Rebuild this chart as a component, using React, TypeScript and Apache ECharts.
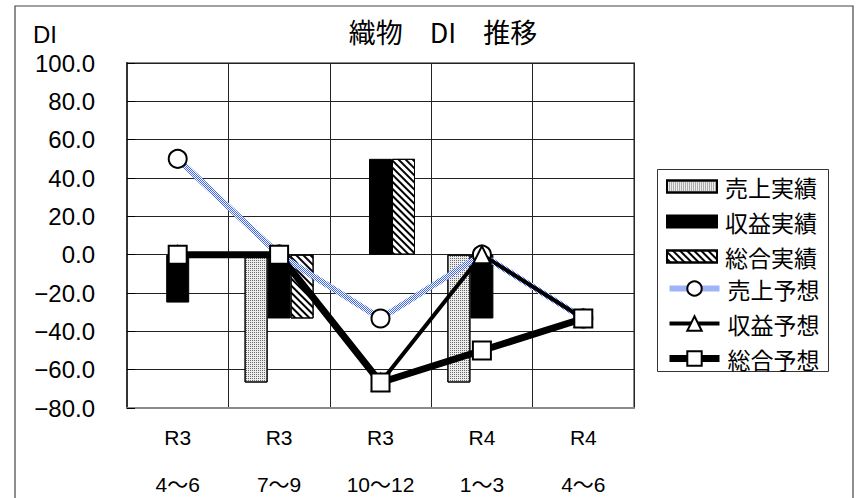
import React, { useEffect, useRef } from "react";
import * as echarts from "echarts";

// Period labels: fiscal year on the first line, months on the second
const periodYears = ["R3", "R3", "R3", "R4", "R4"];
const periodMonths = ["4～6", "7～9", "10～12", "1～3", "4～6"];

// Actual DI (bars)
const salesActual = [0, -66.7, 0, -66.7, null];
const profitActual = [-25, -33.3, 50, -33.3, null];
const totalActual = [0, -33.3, 50, 0, null];

// Forecast DI (lines)
const salesForecast = [50, 0, -33.3, 0, -33.3];
const profitForecast = [0, 0, -66.7, 0, -33.3];
const totalForecast = [0, 0, -66.7, -50, -33.3];

const barNames = ["売上実績", "収益実績", "総合実績"];
const lineNames = ["売上予想", "収益予想", "総合予想"];

const LATIN = '"Liberation Sans", "Noto Sans CJK JP", sans-serif';
const CJK = '"Noto Sans CJK JP", "Liberation Sans", sans-serif';

// Blue/white checkerboard used as the stroke of the sales forecast line
function checkerPattern(): HTMLCanvasElement {
  const c = document.createElement("canvas");
  c.width = 2;
  c.height = 2;
  const ctx = c.getContext("2d")!;
  ctx.fillStyle = "#ffffff";
  ctx.fillRect(0, 0, 2, 2);
  ctx.fillStyle = "#3f66f2";
  ctx.fillRect(0, 0, 1, 1);
  ctx.fillRect(1, 1, 1, 1);
  return c;
}

// A zero-valued bar is drawn without its outline so it stays invisible
function barData(values: (number | null)[]) {
  return values.map((v) =>
    v === 0 ? { value: 0, itemStyle: { borderWidth: 0 } } : v
  );
}

export default function App() {
  const ref = useRef<HTMLDivElement>(null);

  useEffect(() => {
    if (!ref.current) return;
    const chart = echarts.init(ref.current, null, { renderer: "svg" });
    const categories = periodYears.map((y, i) => `${y}\n${periodMonths[i]}`);
    const blueStroke = { image: checkerPattern(), repeat: "repeat" };

    const barBase = { type: "bar", barWidth: 23, barGap: "0%" };
    const legendText = {
      color: "#000",
      fontFamily: CJK,
      fontSize: 23,
      lineHeight: 22,
      padding: [0, 0, 0, 3],
    };

    chart.setOption({
      animation: false,
      backgroundColor: "#ffffff",
      grid: {
        left: 127,
        right: 227,
        top: 63,
        bottom: 90,
        outerBoundsMode: "none",
        containLabel: false,
        show: true,
        borderColor: "#8a8a8a",
        borderWidth: 2,
        backgroundColor: "transparent",
      },
      xAxis: {
        type: "category",
        data: categories,
        axisLine: { show: true, onZero: false, lineStyle: { color: "#8a8a8a", width: 2 } },
        axisTick: { show: false },
        splitLine: { show: true, lineStyle: { color: "#222", width: 1 } },
        axisLabel: {
          color: "#000",
          fontFamily: LATIN,
          fontSize: 21,
          lineHeight: 47,
          margin: 6,
          interval: 0,
        },
      },
      yAxis: {
        type: "value",
        min: -80,
        max: 100,
        interval: 20,
        axisLine: { show: true, lineStyle: { color: "#333", width: 2 } },
        axisTick: { show: true, inside: true, length: 8, lineStyle: { color: "#000", width: 1 } },
        splitLine: { show: true, lineStyle: { color: "#222", width: 1 } },
        axisLabel: {
          color: "#000",
          fontFamily: LATIN,
          fontSize: 24,
          margin: 32,
          formatter: (v: number) => (v < 0 ? "−" + Math.abs(v).toFixed(1) : v.toFixed(1)),
        },
      },
      legend: [
        {
          orient: "vertical",
          left: 666,
          top: 175,
          padding: 0,
          data: barNames.map((name) => ({ name, icon: "rect" })),
          itemWidth: 50,
          itemHeight: 12,
          itemGap: 12,
          textStyle: legendText,
        },
        {
          orient: "vertical",
          left: 666,
          top: 277,
          padding: 0,
          data: [
            { name: lineNames[0], lineStyle: { width: 6, color: blueStroke } },
            { name: lineNames[1], lineStyle: { width: 4 } },
            { name: lineNames[2], lineStyle: { width: 7 } },
          ],
          itemWidth: 50,
          itemHeight: 18,
          itemGap: 12,
          textStyle: legendText,
        },
      ],
      graphic: [
        {
          type: "rect",
          shape: { x: 15, y: 6, width: 838, height: 520 },
          style: { fill: "none", stroke: "#444", lineWidth: 1.2 },
          silent: true,
          z: -10,
        },
        {
          type: "rect",
          shape: { x: 657.5, y: 169.5, width: 171, height: 202 },
          style: { fill: "#fff", stroke: "#333", lineWidth: 1 },
          silent: true,
          z: -5,
        },
        {
          type: "text",
          x: 33,
          y: 34,
          style: {
            text: "DI",
            fontFamily: LATIN,
            fontSize: 24,
            fill: "#000",
            textAlign: "left",
            textVerticalAlign: "middle",
          },
        },
        {
          type: "text",
          x: 443,
          y: 31,
          style: {
            text: "織物　DI　推移",
            fontFamily: CJK,
            fontSize: 27,
            fill: "#000",
            textAlign: "center",
            textVerticalAlign: "middle",
          },
        },
      ],
      series: [
        {
          ...barBase,
          name: barNames[0],
          data: barData(salesActual),
          itemStyle: {
            color: "#ececec",
            borderColor: "#000",
            borderWidth: 1,
            decal: {
              symbol: "rect",
              symbolSize: 1,
              dashArrayX: [1, 1],
              dashArrayY: [1, 1],
              color: "#6a6a6a",
            },
          },
        },
        {
          ...barBase,
          name: barNames[1],
          data: barData(profitActual),
          itemStyle: { color: "#000", borderColor: "#000", borderWidth: 1 },
        },
        {
          ...barBase,
          name: barNames[2],
          data: barData(totalActual),
          itemStyle: {
            color: "#fff",
            borderColor: "#000",
            borderWidth: 1,
            decal: {
              symbol: "rect",
              symbolSize: 1,
              dashArrayX: [1, 0],
              dashArrayY: [2, 2.5],
              rotation: Math.PI / 4,
              color: "#000",
            },
          },
        },
        {
          type: "line",
          name: lineNames[0],
          data: salesForecast,
          symbol: "circle",
          symbolSize: 18,
          showAllSymbol: true,
          lineStyle: { color: blueStroke, width: 6 },
          itemStyle: { color: "#fff", borderColor: "#000", borderWidth: 2 },
          z: 3,
        },
        {
          type: "line",
          name: lineNames[1],
          data: profitForecast,
          symbol: "triangle",
          symbolSize: 17,
          showAllSymbol: true,
          lineStyle: { color: "#000", width: 4 },
          itemStyle: { color: "#fff", borderColor: "#000", borderWidth: 2 },
          z: 4,
        },
        {
          type: "line",
          name: lineNames[2],
          data: totalForecast,
          symbol: "rect",
          symbolSize: 18,
          showAllSymbol: true,
          lineStyle: { color: "#000", width: 7 },
          itemStyle: { color: "#fff", borderColor: "#000", borderWidth: 2 },
          z: 5,
        },
      ],
    });

    return () => chart.dispose();
  }, []);

  return (
    <div
      ref={ref}
      style={{ position: "fixed", left: 0, top: 0, width: 861, height: 498, background: "#fff" }}
    />
  );
}
